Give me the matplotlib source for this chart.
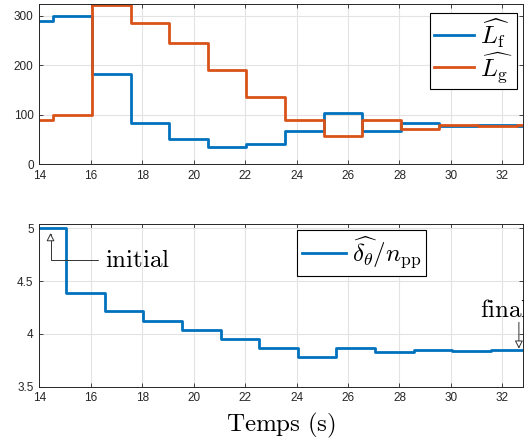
import matplotlib
matplotlib.use("Agg")
import matplotlib.pyplot as plt

plt.rcParams['mathtext.fontset'] = 'cm'
plt.rcParams['font.family'] = ['Liberation Sans', 'DejaVu Sans']

# top panel: estimated inductances (step changes)
t_L = [14, 14.55, 16.05, 17.55, 19.05, 20.55, 22.05, 23.55, 25.05, 26.55, 28.05, 29.55, 31.05, 32.55, 32.8]
Lf = [290, 300, 183, 83, 50, 35, 40, 66, 104, 66, 84, 77, 79, 76, 76]
Lg = [89, 99, 322, 286, 245, 191, 135, 90, 57, 90, 70, 80, 77, 78, 78]

# bottom panel: delta_theta / n_pp
t_d = [14, 15.05, 16.55, 18.05, 19.55, 21.05, 22.55, 24.05, 25.55, 27.05, 28.55, 30.05, 31.55, 32.8]
delta = [5.0, 4.39, 4.215, 4.125, 4.04, 3.955, 3.865, 3.78, 3.87, 3.825, 3.845, 3.835, 3.845, 3.845]

xticks = [14, 16, 18, 20, 22, 24, 26, 28, 30, 32]
blue = '#0072BD'
orange = '#D95319'
dark = '#262626'

fig = plt.figure(figsize=(5.24, 4.44), dpi=100)
ax1 = fig.add_axes([0.0748, 0.6306, 0.9233, 0.3604])
ax2 = fig.add_axes([0.0748, 0.129, 0.9233, 0.3664])


def style(ax):
    ax.grid(True, color='#e3e3e3', linewidth=0.8)
    ax.set_axisbelow(True)
    for s in ax.spines.values():
        s.set_color(dark)
        s.set_linewidth(0.7)
    ax.tick_params(direction='in', top=True, right=True, length=3, width=0.6,
                   colors=dark, labelsize=8.5, pad=4)
    ax.set_xticks(xticks)
    ax.set_xlim(14, 32.8)


ax1.plot(t_L, Lf, drawstyle='steps-post', color=blue, lw=2, label=r'$\widehat{L_\mathrm{f}}$')
ax1.plot(t_L, Lg, drawstyle='steps-post', color=orange, lw=2, label=r'$\widehat{L_\mathrm{g}}$')
style(ax1)
ax1.set_ylim(0, 324)
ax1.set_yticks([0, 100, 200, 300])
leg1 = ax1.legend(loc='upper right', bbox_to_anchor=(0.987, 0.944), borderaxespad=0,
                  fontsize=18, fancybox=False, edgecolor='black', framealpha=1,
                  handlelength=1.6, handletextpad=0.25, labelspacing=0.0, borderpad=0.15)
leg1.get_frame().set_linewidth(0.8)

ax2.plot(t_d, delta, drawstyle='steps-post', color=blue, lw=2,
         label=r'$\widehat{\delta_\theta}/n_\mathrm{pp}$')
style(ax2)
ax2.set_ylim(3.5, 5.04)
ax2.set_yticks([3.5, 4, 4.5, 5])
ax2.set_yticklabels(['3.5', '4', '4.5', '5'])
leg2 = ax2.legend(loc='upper left', bbox_to_anchor=(0.533, 0.963), borderaxespad=0,
                  fontsize=18, fancybox=False, edgecolor='black', framealpha=1,
                  handlelength=1.75, handletextpad=0.25, borderpad=0.2)
leg2.get_frame().set_linewidth(0.8)

ax2.annotate(r'$\mathrm{initial}$', xy=(14.44, 4.955), xytext=(16.55, 4.70),
             ha='left', va='center', fontsize=18,
             arrowprops=dict(arrowstyle='-|>', fc='white', ec='#333333', lw=0.7,
                             mutation_scale=12, shrinkA=3, shrinkB=0,
                             connectionstyle='angle,angleA=0,angleB=90,rad=0'))
# "final" runs past the right edge, as in the reference
ax2.text(31.12, 4.163, r'$\mathrm{final}$', ha='left', va='baseline', fontsize=18,
         clip_on=False)
ax2.annotate('', xy=(32.64, 3.86), xytext=(32.64, 4.11),
             arrowprops=dict(arrowstyle='-|>', fc='white', ec='#333333', lw=0.7,
                             mutation_scale=12, shrinkA=0, shrinkB=0))
ax2.set_xlabel(r'$\mathrm{Temps\ (s)}$', fontsize=18, labelpad=5)

fig.savefig('out.png', dpi=100)
